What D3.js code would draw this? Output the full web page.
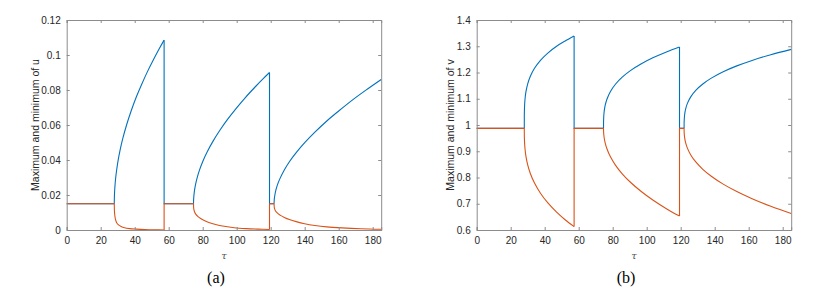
<!DOCTYPE html>
<html lang="en">
  <head>
    <meta charset="utf-8">
    <title>Maximum and minimum of u and v</title>
    <script src="https://d3js.org/d3.v7.min.js"></script>
    <style>
      body { margin: 0; background: #fff; }
      .tick text { font-family: "Liberation Sans", Arial, sans-serif; font-size: 10px; fill: #262626; }
    </style>
  </head>
  <body>
    <div id="chart"></div>
    <script>
      // tau axis
      var TAU_DOMAIN = [0, 185];
      var TAU_TICKS = [0, 20, 40, 60, 80, 100, 120, 140, 160, 180];

      // ---- u panel ----
      var U_DOMAIN = [0, 0.12];
      var U_TICKS = [0, 0.02, 0.04, 0.06, 0.08, 0.1, 0.12];
      var U_EQ = 0.015;
      // plateaus and jumps, as [tau, value]
      var uMaxSteady = [
        [[0, U_EQ], [28, U_EQ]],
        [[57.3, 0.1085], [57.3, U_EQ], [74.6, U_EQ]],
        [[119.3, 0.090], [119.3, U_EQ], [122, U_EQ]]
      ];
      var uMinSteady = [
        [[0, U_EQ], [28, U_EQ]],
        [[57.3, 0], [57.3, U_EQ], [74.6, U_EQ]],
        [[119.3, 0.0003], [119.3, U_EQ], [122, U_EQ]]
      ];
      // periodic branches
      var uMaxBranches = [
        [[28, 0.015], [28.03, 0.018], [28.15, 0.0213], [28.5, 0.0266], [29, 0.0314], [30, 0.0384], [31.4, 0.0456],
         [33, 0.0523], [35.3, 0.0603], [38, 0.0683], [41, 0.0761], [44, 0.0830], [47.5, 0.0905], [51, 0.0973],
         [54.5, 0.1037], [57.3, 0.1085]],
        [[74.6, 0.015], [74.63, 0.0168], [74.75, 0.0188], [75.1, 0.0221], [75.6, 0.0251], [76.6, 0.0294], [78.1, 0.0342],
         [80.1, 0.0393], [82.6, 0.0446], [86.1, 0.0508], [90.1, 0.0570], [94.6, 0.0632], [99.6, 0.0694],
         [105.1, 0.0757], [111.1, 0.0820], [115.6, 0.0865], [119.3, 0.090]],
        [[122, 0.015], [122.03, 0.0163], [122.15, 0.0179], [122.5, 0.0203], [123, 0.0226], [124, 0.0259], [125.5, 0.0295],
         [128, 0.0343], [131, 0.0390], [135, 0.0442], [140, 0.0499], [146, 0.0559], [153, 0.0623], [160, 0.068],
         [168, 0.0742], [176, 0.0799], [185, 0.086]]
      ];
      var uMinBranches = [
        [[28, 0.015], [28.03, 0.0125], [28.1, 0.0105], [28.3, 0.0083], [28.7, 0.0061], [29.4, 0.0042], [30.5, 0.0029],
         [32, 0.0020], [34, 0.0013], [37, 0.0008], [41, 0.0005], [46, 0.00025], [52, 0.0001], [57.3, 0.00003]],
        [[74.6, 0.015], [74.63, 0.0135], [74.7, 0.0125], [74.9, 0.0113], [75.3, 0.0101], [76, 0.0089], [77.1, 0.0078],
         [78.6, 0.0067], [80.6, 0.0056], [83.6, 0.0043], [87.6, 0.0031], [92.6, 0.0021], [98.6, 0.0013],
         [105.6, 0.0008], [112.6, 0.0005], [119.3, 0.0003]],
        [[122, 0.015], [122.03, 0.0138], [122.1, 0.013], [122.3, 0.0121], [122.7, 0.0112], [123.4, 0.0102], [124.5, 0.0092],
         [126, 0.0082], [128, 0.0072], [131, 0.0060], [135, 0.0048], [140, 0.0036], [146, 0.0026], [153, 0.0018],
         [162, 0.0012], [173, 0.0007], [185, 0.0004]]
      ];

      // ---- v panel ----
      var V_DOMAIN = [0.6, 1.4];
      var V_TICKS = [0.6, 0.7, 0.8, 0.9, 1, 1.1, 1.2, 1.3, 1.4];
      var V_EQ = 0.987;
      var vMaxSteady = [
        [[0, V_EQ], [28, V_EQ]],
        [[57.3, 1.339], [57.3, V_EQ], [74.6, V_EQ]],
        [[119.3, 1.297], [119.3, V_EQ], [122, V_EQ]]
      ];
      var vMinSteady = [
        [[0, V_EQ], [28, V_EQ]],
        [[57.3, 0.613], [57.3, V_EQ], [74.6, V_EQ]],
        [[119.3, 0.653], [119.3, V_EQ], [122, V_EQ]]
      ];
      var vMaxBranches = [
        [[28, 0.987], [28.01, 1.028], [28.05, 1.050], [28.2, 1.0785], [28.5, 1.104], [29, 1.128], [30, 1.157],
         [31.5, 1.185], [34, 1.216], [37.5, 1.2465], [42, 1.275], [47, 1.300], [52, 1.320], [57.3, 1.339]],
        [[74.6, 0.987], [74.61, 1.0064], [74.65, 1.0199], [74.8, 1.039], [75.1, 1.0574], [75.6, 1.0755], [76.6, 1.0982],
         [78.6, 1.1268], [81.6, 1.1552], [85.6, 1.1822], [90.6, 1.208], [96.6, 1.2324], [103.6, 1.2559],
         [111.6, 1.2784], [119.3, 1.297]],
        [[122, 0.987], [122.01, 1.0038], [122.05, 1.0155], [122.2, 1.0321], [122.5, 1.048], [123, 1.0637], [124, 1.0834],
         [126, 1.1082], [129, 1.1327], [133, 1.1562], [138, 1.1785], [145, 1.2029], [153, 1.2252], [162, 1.2461],
         [173, 1.2677], [185, 1.288]]
      ];
      var vMinBranches = [
        [[28, 0.987], [28.01, 0.9675], [28.05, 0.9516], [28.2, 0.9278], [28.5, 0.904], [29, 0.8797], [30, 0.8483],
         [31.5, 0.8164], [34, 0.7788], [37.5, 0.7402], [42, 0.7021], [47, 0.6681], [52, 0.6392], [57.3, 0.613]],
        [[74.6, 0.987], [74.61, 0.9806], [74.65, 0.9733], [74.8, 0.9607], [75.1, 0.9466], [75.6, 0.931], [76.6, 0.9094],
         [78.6, 0.8796], [81.6, 0.8472], [85.6, 0.8142], [90.6, 0.7809], [96.6, 0.7476], [103.6, 0.7144],
         [111.6, 0.6813], [119.3, 0.653]],
        [[122, 0.987], [122.01, 0.9788], [122.05, 0.9708], [122.2, 0.9581], [122.5, 0.9445], [123, 0.9301], [124, 0.9109],
         [126, 0.8851], [129, 0.8582], [133, 0.8312], [138, 0.8047], [145, 0.7747], [153, 0.7463], [162, 0.7191],
         [173, 0.6903], [185, 0.663]]
      ];

      var BLUE = "#0072BD";
      var ORANGE = "#D95319";
      var AXIS_COLOR = "#8c8c8c";

      var w = 831;
      var h = 292;

      var svg = d3.select("#chart")
        .append("svg")
          .attr("width", w)
          .attr("height", h);

      function drawPanel(opts) {
        var left = opts.left, top = 20, innerWidth = 314.5, innerHeight = 210;

        var xScale = d3.scaleLinear().domain(TAU_DOMAIN).range([0, innerWidth]);
        var yScale = d3.scaleLinear().domain(opts.yDomain).range([innerHeight, 0]);

        var g = svg.append("g").attr("transform", `translate(${left},${top})`);

        var smooth = d3.line()
          .x(function(d) { return xScale(d[0]); })
          .y(function(d) { return yScale(d[1]); })
          .curve(d3.curveCatmullRom.alpha(0.5));
        var straight = d3.line()
          .x(function(d) { return xScale(d[0]); })
          .y(function(d) { return yScale(d[1]); });

        // max first, min drawn on top
        [[opts.maxSteady, opts.maxBranches, BLUE], [opts.minSteady, opts.minBranches, ORANGE]].forEach(function(s) {
          s[0].forEach(function(seg) {
            g.append("path").attr("d", straight(seg))
              .attr("fill", "none").attr("stroke", s[2]).attr("stroke-width", 1.1);
          });
          s[1].forEach(function(seg) {
            g.append("path").attr("d", smooth(seg))
              .attr("fill", "none").attr("stroke", s[2]).attr("stroke-width", 1.1);
          });
        });

        // box axes, ticks pointing inward
        var xb = g.append("g").attr("transform", `translate(0,${innerHeight})`)
          .call(d3.axisBottom(xScale).tickValues(TAU_TICKS).tickSize(-3).tickPadding(7).tickFormat(d3.format("d")));
        var xt = g.append("g")
          .call(d3.axisTop(xScale).tickValues(TAU_TICKS).tickSize(-3).tickFormat(""));
        var yl = g.append("g")
          .call(d3.axisLeft(yScale).tickValues(opts.yTicks).tickSize(-3).tickPadding(6).tickFormat(opts.fmt));
        var yr = g.append("g").attr("transform", `translate(${innerWidth},0)`)
          .call(d3.axisRight(yScale).tickValues(opts.yTicks).tickSize(-3).tickFormat(""));
        [xb, xt, yl, yr].forEach(function(a) {
          a.select(".domain").attr("stroke", AXIS_COLOR).attr("stroke-width", 1);
          a.selectAll(".tick line").attr("stroke", AXIS_COLOR);
        });

        g.append("text")
          .text("Maximum and minimum of " + opts.varName)
          .attr("transform", `translate(${opts.ylabelX - left},${innerHeight / 2}) rotate(-90)`)
          .attr("text-anchor", "middle")
          .attr("dy", "0.35em")
          .style("font-family", "Liberation Sans, Arial, sans-serif")
          .style("font-size", "10.5px")
          .style("fill", "#262626");

        g.append("text")
          .text("\u03C4")
          .attr("x", innerWidth / 2)
          .attr("y", innerHeight + 29)
          .attr("text-anchor", "middle")
          .style("font-family", "DejaVu Serif, serif")
          .style("font-style", "italic")
          .style("font-size", "10px")
          .style("fill", "#555");

        svg.append("text")
          .text(opts.caption)
          .attr("x", opts.captionX)
          .attr("y", 283)
          .attr("text-anchor", "middle")
          .style("font-family", "Liberation Serif, Times New Roman, serif")
          .style("font-size", "16px")
          .style("fill", "#000");
      }

      drawPanel({
        left: 66.7, yDomain: U_DOMAIN, yTicks: U_TICKS, fmt: function(d) { return d === 0 ? "0" : String(+d.toFixed(2)); },
        maxSteady: uMaxSteady, minSteady: uMinSteady, maxBranches: uMaxBranches, minBranches: uMinBranches,
        varName: "u", ylabelX: 35.5, caption: "(a)", captionX: 216
      });

      drawPanel({
        left: 476.7, yDomain: V_DOMAIN, yTicks: V_TICKS, fmt: function(d) { return String(+d.toFixed(1)); },
        maxSteady: vMaxSteady, minSteady: vMinSteady, maxBranches: vMaxBranches, minBranches: vMinBranches,
        varName: "v", ylabelX: 450, caption: "(b)", captionX: 626
      });
    </script>
  </body>
</html>
